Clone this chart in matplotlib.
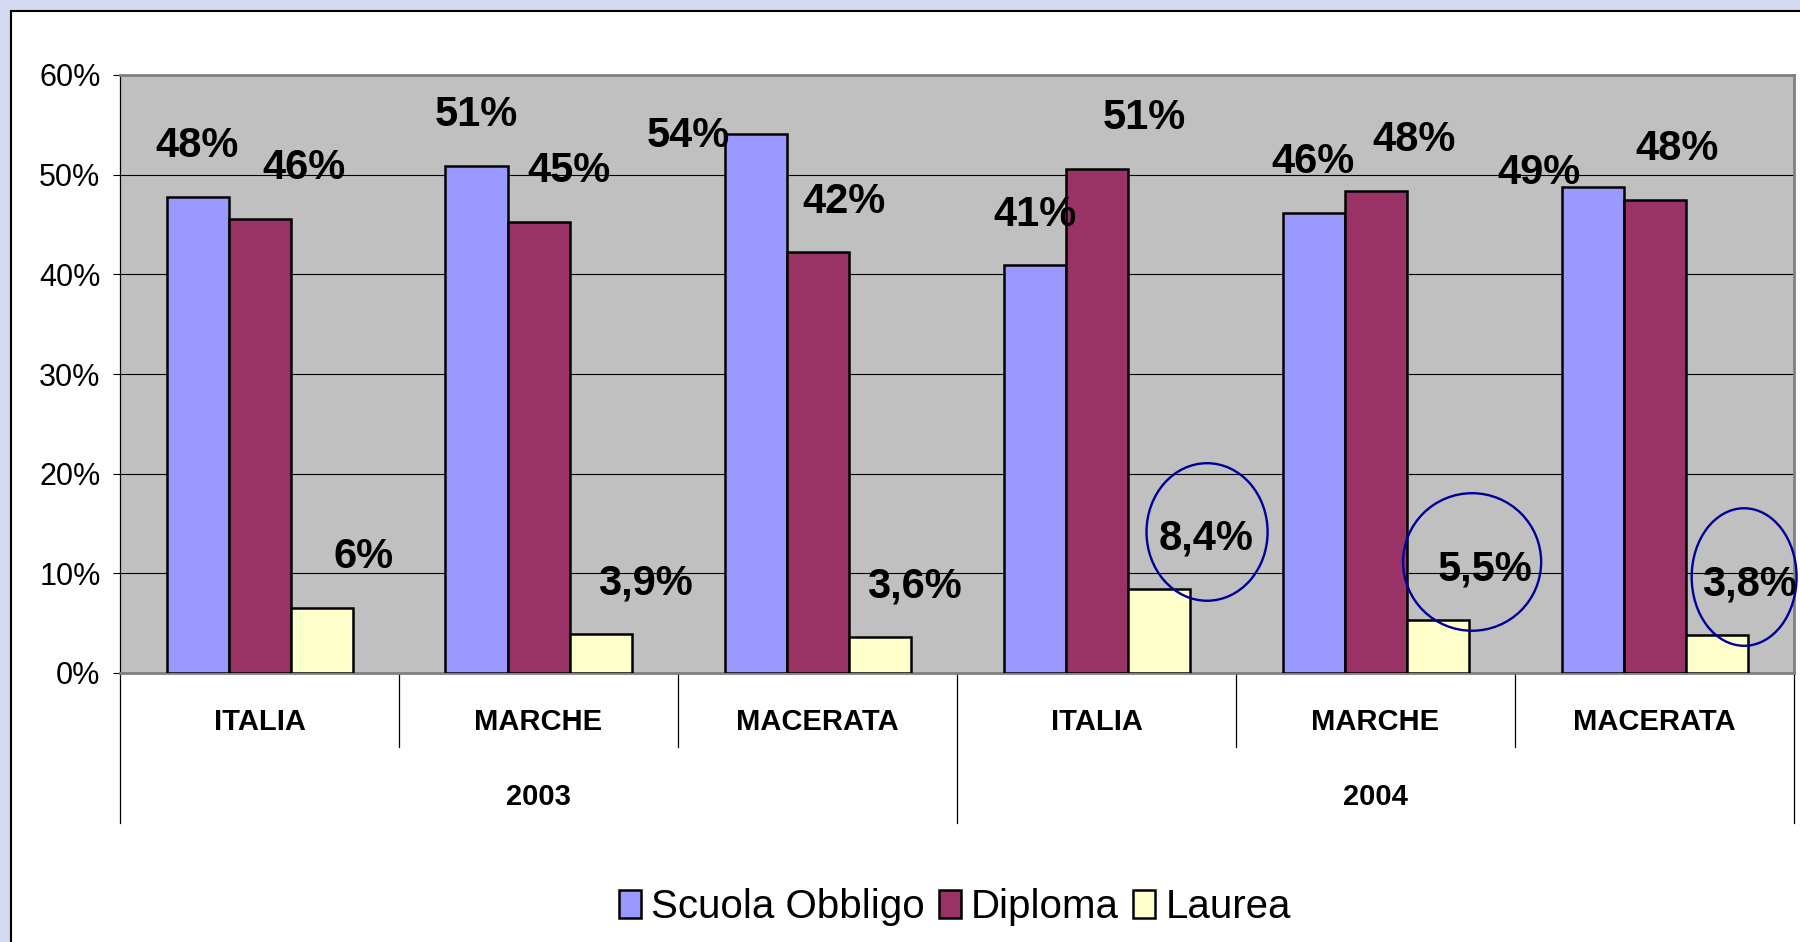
import matplotlib.pyplot as plt
import matplotlib.patches as mpatches
from matplotlib.font_manager import findfont, FontProperties

# data
categories = ['ITALIA', 'MARCHE', 'MACERATA', 'ITALIA', 'MARCHE', 'MACERATA']
years = ['2003', '2004']
series_names = ['Scuola Obbligo', 'Diploma', 'Laurea']
scuola = [47.8, 50.9, 54.1, 40.9, 46.2, 48.8]
diploma = [45.6, 45.3, 42.2, 50.6, 48.4, 47.5]
laurea = [6.5, 3.9, 3.6, 8.4, 5.3, 3.8]
scuola_lbl = ['48%', '51%', '54%', '41%', '46%', '49%']
diploma_lbl = ['46%', '45%', '42%', '51%', '48%', '48%']
laurea_lbl = ['6%', '3,9%', '3,6%', '8,4%', '5,5%', '3,8%']
circled = [3, 4, 5]  # laurea labels highlighted in 2004

# layout of the hand-placed labels (offsets from bar centre / bar top)
scuola_dx = [0.0, 0.0, -0.24, 0.0, 0.0, -0.19]
scuola_dy = [5.1, 5.1, -0.2, 5.1, 5.1, 1.4]
diploma_dx = [0.16, 0.11, 0.095, 0.17, 0.14, 0.08]
laurea_dx = [0.15, 0.16, 0.125, 0.17, 0.17, 0.12]
circle_w = [0.434, 0.495, 0.376]
circle_dx = [0.004, -0.046, -0.021]
circle_dy = [0.65, 0.74, 0.73]

colors = ['#9999FF', '#993366', '#FFFFCC']

narrow = 'Liberation Sans Narrow'
if 'Narrow' not in findfont(FontProperties(family=narrow), fallback_to_default=True):
    narrow = 'Liberation Sans'
plt.rcParams['font.family'] = [narrow, 'DejaVu Sans']

fig = plt.figure(figsize=(18, 9.42), dpi=100)
fig.set_facecolor('#D3D9EE')
fig.patches.append(mpatches.Rectangle((10.5 / 1800, -0.05), 1.1, 1 - 10.5 / 942 + 0.05,
                                      transform=fig.transFigure, facecolor='white',
                                      edgecolor='black', lw=1.5, zorder=-10))

ax = fig.add_axes([120 / 1800, 1 - 673 / 942, 1674 / 1800, 598 / 942])
ax.set_facecolor('#C0C0C0')

n = len(categories)
w = 1 / 4.5
x0 = [i + 0.5 for i in range(n)]
all_vals = [scuola, diploma, laurea]
for j, vals in enumerate(all_vals):
    xs = [c + (j - 1) * w for c in x0]
    ax.bar(xs, vals, width=w, color=colors[j], edgecolor='black', lw=1.8,
           label=series_names[j], zorder=3)

lab_font = dict(fontsize=30, fontweight='bold', ha='center', va='center', zorder=5)
for i in range(n):
    ax.text(x0[i] - w + scuola_dx[i], scuola[i] + scuola_dy[i], scuola_lbl[i], **lab_font)
    ax.text(x0[i] + diploma_dx[i], diploma[i] + 5.1, diploma_lbl[i], **lab_font)
    ax.text(x0[i] + w + laurea_dx[i], laurea[i] + 5.1, laurea_lbl[i], **lab_font)

for k, i in enumerate(circled):
    cx = x0[i] + w + laurea_dx[i] + circle_dx[k]
    cy = laurea[i] + 5.1 + circle_dy[k]
    ax.add_patch(mpatches.Ellipse((cx, cy), circle_w[k], 13.8, fill=False,
                                  edgecolor='#000099', lw=1.7, zorder=6, clip_on=False))

ax.set_xlim(0, n)
ax.set_ylim(0, 60)
ax.set_yticks(range(0, 61, 10))
ax.set_yticklabels([f'{v}%' for v in range(0, 61, 10)], fontsize=22)
ax.tick_params(axis='y', direction='out', length=5, width=0.8, pad=9)
ax.set_xticks([])
ax.yaxis.grid(True, color='black', lw=0.8)
ax.set_axisbelow(True)
for s in ['top', 'right', 'bottom']:
    ax.spines[s].set_color('#808080')
    ax.spines[s].set_linewidth(2)
ax.spines['left'].set_linewidth(0.9)

# multi-level category axis
tr = ax.get_xaxis_transform()
per_year = n // len(years)
for b in range(n + 1):
    depth = -0.251 if b % per_year == 0 else -0.124
    ax.plot([b, b], [0, depth], color='black', lw=0.9, transform=tr, clip_on=False)
for i, c in enumerate(categories):
    ax.text(x0[i], -0.082, c, transform=tr, ha='center', va='center',
            fontsize=21, fontweight='bold')
for k, y in enumerate(years):
    ax.text(k * per_year + per_year / 2, -0.207, y, transform=tr, ha='center',
            va='center', fontsize=21, fontweight='bold')

handles = [mpatches.Patch(facecolor=c, edgecolor='black', lw=1.8) for c in colors]
fig.legend(handles, series_names, loc='center', bbox_to_anchor=(955 / 1800, 35 / 942),
           ncol=3, frameon=False, fontsize=29, handlelength=0.55, handleheight=0.7,
           handletextpad=0.25, columnspacing=0.35)

fig.savefig('out.png', dpi=100, facecolor=fig.get_facecolor())
